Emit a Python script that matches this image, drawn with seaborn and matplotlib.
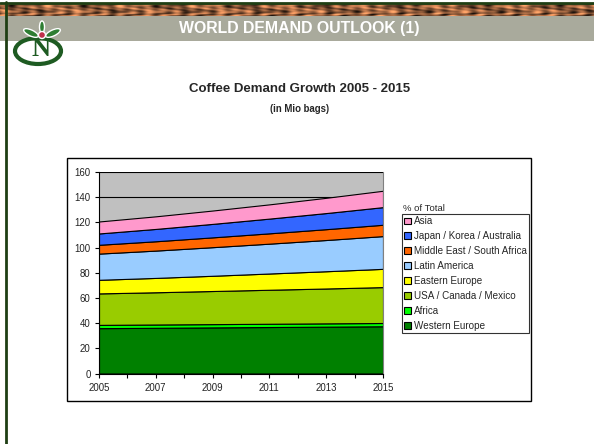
import numpy as np
import pandas as pd
import matplotlib
matplotlib.use("Agg")
import matplotlib.pyplot as plt
import matplotlib.patches as mpatches
import seaborn as sns

# Data (Mio bags)
years = [2005, 2007, 2009, 2011, 2013, 2015]
western_europe = [36.0, 36.3, 36.6, 36.9, 37.2, 37.5]
africa = [2.6, 2.6, 2.6, 2.6, 2.6, 2.6]
usa_canada_mexico = [25.0, 25.6, 26.3, 27.0, 27.7, 28.5]
eastern_europe = [10.8, 11.4, 12.1, 12.9, 13.7, 14.5]
latin_america = [20.8, 21.7, 22.7, 23.7, 24.8, 26.0]
middle_east = [7.0, 7.4, 7.8, 8.2, 8.6, 9.0]
japan_korea = [9.0, 9.8, 10.7, 11.7, 12.8, 14.0]
asia = [9.5, 10.0, 10.6, 11.3, 12.1, 13.0]

series_names = ["Western Europe", "Africa", "USA / Canada / Mexico", "Eastern Europe",
                "Latin America", "Middle East / South Africa",
                "Japan / Korea / Australia", "Asia"]
series_colors = ["#008000", "#00FF00", "#99CC00", "#FFFF00",
                 "#99CCFF", "#FF6600", "#3366FF", "#FF99CC"]

df = pd.DataFrame({
    "Western Europe": western_europe,
    "Africa": africa,
    "USA / Canada / Mexico": usa_canada_mexico,
    "Eastern Europe": eastern_europe,
    "Latin America": latin_america,
    "Middle East / South Africa": middle_east,
    "Japan / Korea / Australia": japan_korea,
    "Asia": asia,
}, index=years)

sns.set_style("white")
plt.rcParams["font.family"] = ["Liberation Sans", "DejaVu Sans"]

W, H = 594, 444
fig = plt.figure(figsize=(W / 100, H / 100), dpi=100)
fig.patch.set_facecolor("white")


def fx(px):
    return px / W


def fy(py):
    return 1 - py / H


# ---- slide decoration ----
deco = fig.add_axes([0, 0, 1, 1], zorder=-5)
deco.set_xlim(0, W)
deco.set_ylim(H, 0)
deco.axis("off")

# coffee bean strip (deterministic texture)
xx, yy = np.meshgrid(np.linspace(0, 60, 600), np.linspace(0, 3, 14))
tex = np.sin(xx * 1.7 + np.sin(yy * 2.3) * 3) * np.cos(xx * 0.9 - yy * 2.1) + 0.4 * np.sin(xx * 4.3)
deco.imshow(tex, extent=[0, W, 16, 3], cmap="copper", vmin=-1.6, vmax=1.8,
            aspect="auto", zorder=1)
deco.add_patch(mpatches.Rectangle((0, 16), W, 25, facecolor="#A9AA9C", edgecolor="none", zorder=1))
deco.plot([0, W], [3, 3], color="#1F3F14", lw=2, zorder=2)
deco.plot([6, 6], [2, H], color="#1F3F14", lw=2, zorder=2)
deco.text(299, 28, "WORLD DEMAND OUTLOOK (1)", color="white", fontsize=11.4,
          fontweight="bold", ha="center", va="center", zorder=3)

# simple logo
deco.add_patch(mpatches.Ellipse((38, 51), 46, 26, facecolor="none", edgecolor="#1E5B22", lw=3, zorder=3))
deco.add_patch(mpatches.Ellipse((31, 33), 16, 6, angle=25, facecolor="#2E7D32", zorder=3))
deco.add_patch(mpatches.Ellipse((53, 33), 16, 6, angle=-25, facecolor="#2E7D32", zorder=3))
deco.add_patch(mpatches.Ellipse((42, 27), 5, 12, facecolor="#2E7D32", zorder=3))
deco.add_patch(mpatches.Circle((42, 35), 3.5, facecolor="#C0304A", zorder=4))
deco.text(41, 50, "N", color="#1E5B22", fontsize=19, fontweight="bold",
          family="Liberation Serif", ha="center", va="center", zorder=4)

# chart titles
deco.text(300, 89, "Coffee Demand Growth 2005 - 2015", fontsize=9.5,
          fontweight="bold", ha="center", va="center")
deco.text(300, 109, "(in Mio bags)", fontsize=6.9, fontweight="bold",
          ha="center", va="center")

# chart frame
deco.add_patch(mpatches.Rectangle((67, 158), 464, 243, facecolor="white",
                                  edgecolor="black", lw=1, zorder=1))

# ---- plot area ----
x0, x1, ytop, ybot = 99, 383, 172, 373.5
ax = fig.add_axes([fx(x0), fy(ybot), fx(x1 - x0), (ybot - ytop) / H])
ax.set_facecolor("#C0C0C0")
ax.stackplot(df.index, [df[c] for c in series_names], colors=series_colors,
             edgecolor="black", linewidth=0.8, zorder=2)

ax.set_xlim(2005, 2015)
ax.set_ylim(0, 160)
ax.set_yticks(range(0, 161, 20))
ax.set_xticks(years)
ax.set_xticks(range(2005, 2016), minor=True)
ax.yaxis.grid(True, color="black", lw=0.8, zorder=0)
ax.set_axisbelow(True)
ax.tick_params(axis="both", which="both", direction="out", length=3, width=0.8,
               color="black", labelsize=6.9, pad=3, left=True, bottom=True,
               labelcolor="#222222")
ax.tick_params(axis="x", pad=4)
for side in ["left", "bottom"]:
    ax.spines[side].set_color("black")
    ax.spines[side].set_linewidth(0.8)
ax.spines["top"].set_visible(False)
ax.spines["right"].set_color("#808080")
ax.spines["right"].set_linewidth(0.8)

# legend (top item = Asia)
handles = [mpatches.Patch(facecolor=c, edgecolor="black", lw=0.8, label=n)
           for n, c in zip(series_names[::-1], series_colors[::-1])]
leg = fig.legend(handles=handles, loc="upper left",
                 bbox_to_anchor=(fx(402), fy(214)), bbox_transform=fig.transFigure,
                 fontsize=7.1, frameon=True, fancybox=False, borderpad=0.25,
                 handlelength=0.7, handleheight=0.7, handletextpad=0.25,
                 labelspacing=0.5, borderaxespad=0)
leg.get_frame().set_edgecolor("black")
leg.get_frame().set_linewidth(0.8)
fig.text(fx(403), fy(208), "% of Total", fontsize=6.8, ha="left", va="center")

fig.savefig("out.png", dpi=100)
